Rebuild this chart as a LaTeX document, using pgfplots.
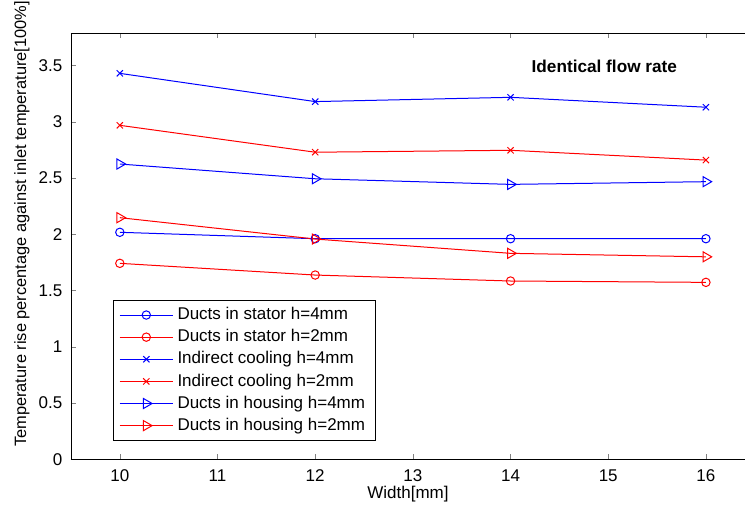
\documentclass[border=0pt]{standalone}
\usepackage{pgfplots}
\pgfplotsset{compat=1.18}
\usepackage{fontspec}
\setmainfont{Liberation Sans}
\newcommand{\sz}{\fontsize{8.5}{10}\selectfont}
\begin{document}
\begin{tikzpicture}
\begin{axis}[
  at={(0,0)}, anchor=south west,
  scale only axis, width=337pt, height=213.15pt,
  xmin=9.5, xmax=16.4, ymin=0, ymax=3.79,
  axis x line*=box, axis y line*=left,
  xtick={10,11,...,16}, ytick={0,0.5,...,3.5},
  tick align=inside, major tick length=2.5pt,
  xtick pos=both, ytick pos=left,
  /pgf/number format/assume math mode=true,
  tick label style={font=\sz},
  xticklabel style={yshift=-1.5pt},
  yticklabel style={xshift=-0.8pt},
  xlabel={Width[mm]}, xlabel style={font=\sz, at={(axis description cs:0.5,-0.0814)}, anchor=center},
  ylabel={Temperature rise percentage against inlet temperature[100\%]},
  ylabel style={font=\fontsize{8.2}{9.6}\selectfont, at={(axis description cs:-0.0727,0.552)}, anchor=center, rotate=0},
  legend style={font=\sz, draw=black, at={(axis description cs:0.0619,0.3737)}, anchor=north west, legend cell align=left, inner xsep=3pt, inner ysep=1.5pt, row sep=-0.6pt},
  legend image code/.code={\draw[mark repeat=2,mark phase=2] plot coordinates {(0pt,0pt) (13.35pt,0pt) (26.7pt,0pt)};},
  every axis plot/.append style={line width=0.5pt},
]
\addplot[blue, mark=o, mark size=2.1pt] coordinates {(10,2.018) (12,1.961) (14,1.961) (16,1.961)};
\addlegendentry{Ducts in stator h=4mm}
\addplot[red, mark=o, mark size=2.1pt] coordinates {(10,1.742) (12,1.638) (14,1.585) (16,1.573)};
\addlegendentry{Ducts in stator h=2mm}
\addplot[blue, mark=x, mark size=2.2pt] coordinates {(10,3.431) (12,3.18) (14,3.218) (16,3.13)};
\addlegendentry{Indirect cooling h=4mm}
\addplot[red, mark=x, mark size=2.2pt] coordinates {(10,2.969) (12,2.73) (14,2.747) (16,2.66)};
\addlegendentry{Indirect cooling h=2mm}
\addplot[blue, mark=triangle, mark size=2.9pt, mark options={rotate=-90}] coordinates {(10,2.625) (12,2.494) (14,2.444) (16,2.468)};
\addlegendentry{Ducts in housing h=4mm}
\addplot[red, mark=triangle, mark size=2.9pt, mark options={rotate=-90}] coordinates {(10,2.148) (12,1.958) (14,1.831) (16,1.80)};
\addlegendentry{Ducts in housing h=2mm}
\node[font=\fontsize{8.6}{10}\selectfont\bfseries] at (axis cs:14.96,3.49) {Identical flow rate};
\end{axis}
\pgfresetboundingbox
\path (-35.5pt,-23.35pt) rectangle (337pt,229.65pt);
\end{tikzpicture}
\end{document}
